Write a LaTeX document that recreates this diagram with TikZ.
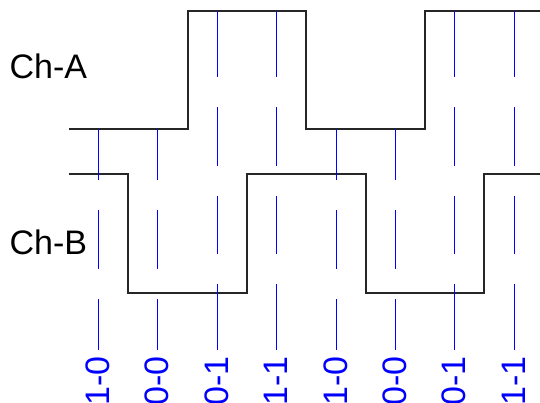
\documentclass[tikz,border=0pt]{standalone}
\usepackage{fontspec}
\setmainfont{Liberation Sans}
\begin{document}
\begin{tikzpicture}[x=1pt,y=-1pt,
  wave/.style={draw=black!85,line width=1.1pt},
  tick/.style={draw=blue,line width=0.9pt},
  chlabel/.style={font=\fontsize{34}{40}\selectfont,inner sep=0pt,anchor=base west},
  statelabel/.style={font=\fontsize{34}{40}\selectfont,text=blue,inner sep=0pt,rotate=90,anchor=east}]
\useasboundingbox (0,0) rectangle (540,402);
% channel labels
\node[chlabel] (cha) at (9.5,78) {Ch-A};
\node[chlabel] (chb) at (9.5,254) {Ch-B};
% waveforms
\draw[wave] (69,129) -- (188,129) -- (188,11) -- (306,11) -- (306,129) -- (425,129) -- (425,11) -- (540,11);
\draw[wave] (69,174) -- (128,174) -- (128,293) -- (247,293) -- (247,174) -- (366,174) -- (366,293) -- (484,293) -- (484,174) -- (540,174);
% dashed sample lines where A is high
\foreach \x in {217,276,454,514}{
  \draw[tick] (\x,11) -- (\x,77) (\x,107) -- (\x,166) (\x,196) -- (\x,254) (\x,284) -- (\x,350);
}
% dashed sample lines where A is low
\foreach \x in {98,157,336,395}{
  \draw[tick] (\x,129) -- (\x,180) (\x,210) -- (\x,269) (\x,299) -- (\x,350);
}
% state labels
\foreach \x/\t [count=\i] in {98/1-0,157/0-0,217/0-1,276/1-1,336/1-0,395/0-0,454/0-1,514/1-1}{
  \node[statelabel] (s\i) at (\x,356) {\t};
}
\end{tikzpicture}
\end{document}
